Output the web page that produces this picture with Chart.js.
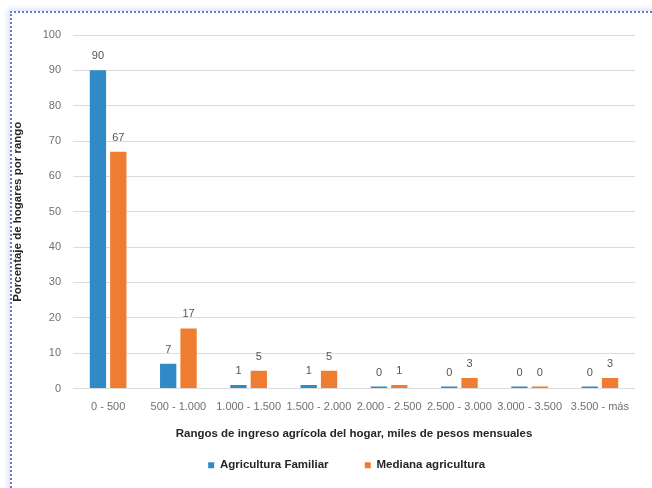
<!DOCTYPE html>
<html>
<head>
<meta charset="utf-8">
<script src="https://cdn.jsdelivr.net/npm/chart.js@4/dist/chart.umd.min.js"></script>
<style>
  html, body { margin: 0; padding: 0; background: #fff; }
  #wrap { position: relative; width: 652px; height: 488px; overflow: hidden; }
  #frame {
    position: absolute; left: 10px; top: 11px; right: -20px; bottom: -20px;
    border-top: 2px dotted #6a78c8; border-left: 2px dotted #6a78c8;
    box-shadow: -2px -2px 5px rgba(110, 130, 220, 0.25);
    pointer-events: none;
  }
  canvas { position: absolute; left: 0; top: 0; }
</style>
</head>
<body>
<div id="wrap">
  <canvas id="ingresoChart" width="652" height="488"></canvas>
  <div id="frame"></div>
</div>
<script>
const rangos = ["0 - 500", "500 - 1.000", "1.000 - 1.500", "1.500 - 2.000", "2.000 - 2.500", "2.500 - 3.000", "3.000 - 3.500", "3.500 - más"];
const agriculturaFamiliar = [90, 7, 1, 1, 0, 0, 0, 0];
const medianaAgricultura = [67, 17, 5, 5, 1, 3, 0, 3];
const yTicks = [0, 10, 20, 30, 40, 50, 60, 70, 80, 90, 100];

const titleFont = { family: "'Liberation Sans', Arial, sans-serif", size: 11.5, weight: "bold" };
const tickFont = { family: "'Liberation Sans', Arial, sans-serif", size: 11 };

// writes each bar's value above it
const valueLabels = {
  id: "valueLabels",
  afterDatasetsDraw(chart) {
    const ctx = chart.ctx;
    ctx.save();
    ctx.font = "11px 'Liberation Sans', Arial, sans-serif";
    ctx.fillStyle = "#555555";
    ctx.textAlign = "center";
    ctx.textBaseline = "middle";
    chart.data.datasets.forEach((ds, i) => {
      chart.getDatasetMeta(i).data.forEach((bar, j) => {
        ctx.fillText(ds.data[j], bar.x, bar.y - 14);
      });
    });
    ctx.restore();
  }
};

new Chart(document.getElementById("ingresoChart"), {
  type: "bar",
  data: {
    labels: rangos,
    datasets: [
      {
        label: "Agricultura Familiar",
        data: agriculturaFamiliar,
        backgroundColor: "#2f8ac6",
        categoryPercentage: 0.58,
        barPercentage: 0.8,
        minBarLength: 2
      },
      {
        label: "Mediana agricultura",
        data: medianaAgricultura,
        backgroundColor: "#ee7d31",
        categoryPercentage: 0.58,
        barPercentage: 0.8,
        minBarLength: 2
      }
    ]
  },
  options: {
    responsive: false,
    animation: false,
    layout: { padding: { left: 7, right: 17, top: 35, bottom: 7 } },
    plugins: {
      tooltip: { enabled: false },
      legend: {
        position: "bottom",
        fullSize: false,
        labels: {
          usePointStyle: true,
          pointStyle: "rect",
          boxWidth: 6,
          boxHeight: 6,
          padding: 10,
          color: "#262626",
          font: titleFont,
          // widen the gap between the entries and nudge the row left
          generateLabels(chart) {
            const items = Chart.defaults.plugins.legend.labels.generateLabels(chart);
            items[0].text += "\u2003\u2003 ";
            items[1].text += "\u2003 ";
            return items;
          }
        }
      }
    },
    scales: {
      x: {
        grid: { display: false },
        border: { display: false },
        ticks: { autoSkip: false, maxRotation: 0, color: "#707070", font: tickFont, padding: 4 },
        title: {
          display: true,
          text: "Rangos de ingreso agrícola del hogar, miles de pesos mensuales",
          color: "#262626",
          font: titleFont,
          padding: { top: 9, bottom: 9 }
        }
      },
      y: {
        min: 0,
        max: 100,
        afterBuildTicks(scale) { scale.ticks = yTicks.map(v => ({ value: v })); },
        afterFit(scale) { scale.width = 66; },
        grid: { color: "#dcdcdc", drawTicks: false },
        border: { display: false },
        ticks: { color: "#707070", font: tickFont, padding: 12 },
        title: {
          display: true,
          text: "Porcentaje de hogares por rango",
          color: "#262626",
          font: titleFont,
          padding: { top: 4, bottom: 4 }
        }
      }
    }
  },
  plugins: [valueLabels]
});
</script>
</body>
</html>
